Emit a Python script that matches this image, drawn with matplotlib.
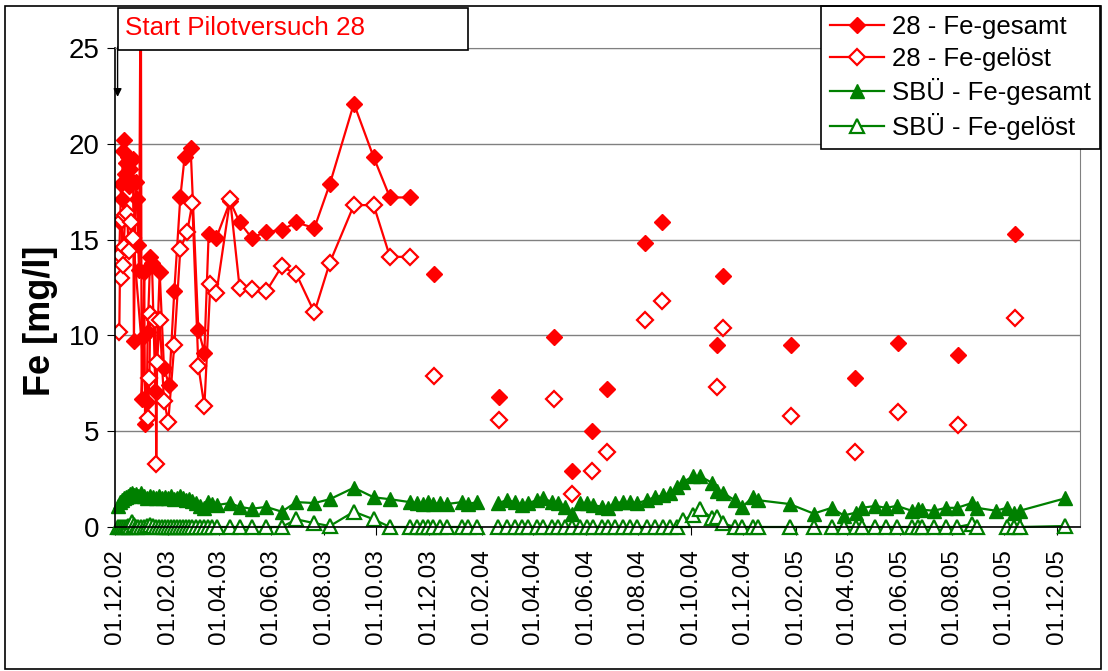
import matplotlib
matplotlib.use("Agg")
import matplotlib.pyplot as plt
import matplotlib.dates as mdates
import numpy as np
import pandas as pd
from matplotlib.patches import Rectangle

plt.rcParams["font.family"] = ["Liberation Sans", "DejaVu Sans"]

ROT = "#FF0000"
GRUEN = "#008000"

# Pilotversuch 28, zusammenhaengende Messreihe (Dez. 2002 - Nov. 2003)
p28_gesamt_dates = [
    "06.12.02", "07.12.02", "08.12.02", "09.12.02", "10.12.02", "11.12.02",
    "13.12.02", "14.12.02", "15.12.02", "16.12.02", "17.12.02", "18.12.02",
    "20.12.02", "22.12.02", "23.12.02", "25.12.02", "27.12.02", "28.12.02",
    "29.12.02", "31.12.02", "01.01.03", "03.01.03", "04.01.03", "05.01.03",
    "07.01.03", "08.01.03", "11.01.03", "13.01.03", "17.01.03", "22.01.03",
    "27.01.03", "02.02.03", "08.02.03", "15.02.03", "20.02.03", "27.02.03",
    "08.03.03", "15.03.03", "20.03.03", "29.03.03", "14.04.03", "25.04.03",
    "09.05.03", "26.05.03", "13.06.03", "30.06.03", "21.07.03", "08.08.03",
    "05.09.03", "28.09.03", "17.10.03", "09.11.03",
]
p28_gesamt = [
    14.4, 15.9, 17.9, 17.1, 19.6, 20.2,
    18.4, 19.0, 18.2, 19.3, 17.8, 18.7,
    18.1, 19.2, 9.7, 18.0, 17.1, 14.7,
    13.4, 31.0, 6.7, 9.9, 13.3, 5.4,
    6.5, 10.2, 14.1, 13.8, 7.1, 13.3,
    8.3, 7.4, 12.3, 17.2, 19.3, 19.8,
    10.3, 9.1, 15.3, 15.1, 17.0, 15.9,
    15.1, 15.4, 15.5, 15.9, 15.6, 17.9,
    22.1, 19.3, 17.2, 17.2,
]

p28_geloest_dates = [
    "06.12.02", "07.12.02", "08.12.02", "09.12.02", "10.12.02", "11.12.02",
    "13.12.02", "15.12.02", "17.12.02", "20.12.02", "22.12.02", "08.01.03",
    "10.01.03", "11.01.03", "17.01.03", "18.01.03", "19.01.03", "22.01.03",
    "27.01.03", "01.02.03", "08.02.03", "15.02.03", "23.02.03", "01.03.03",
    "08.03.03", "15.03.03", "22.03.03", "29.03.03", "14.04.03", "25.04.03",
    "09.05.03", "26.05.03", "13.06.03", "30.06.03", "21.07.03", "08.08.03",
    "05.09.03", "28.09.03", "17.10.03", "09.11.03",
]
p28_geloest = [
    10.2, 14.2, 13.0, 16.0, 13.7, 14.6,
    16.3, 16.4, 14.4, 15.9, 15.1, 5.7,
    7.8, 11.1, 10.8, 3.3, 8.6, 10.8,
    6.6, 5.5, 9.5, 14.5, 15.4, 16.9,
    8.4, 6.3, 12.7, 12.2, 17.1, 12.5,
    12.4, 12.3, 13.6, 13.2, 11.2, 13.8,
    16.8, 16.8, 14.1, 14.1,
]

# Pilotversuch 28, spaetere Einzelproben (nicht verbunden)
p28_einzel_dates = [
    "07.12.03", "21.02.04", "25.04.04", "16.05.04", "08.06.04", "26.06.04",
    "09.08.04", "29.08.04", "01.11.04", "07.11.04", "26.01.05", "10.04.05",
    "30.05.05", "08.08.05", "13.10.05",
]
p28_einzel_gesamt = [13.2, 6.8, 9.9, 2.9, 5.0, 7.2, 14.8, 15.9, 9.5, 13.1, 9.5, 7.8, 9.6, 9.0, 15.3]
p28_einzel_geloest = [7.9, 5.6, 6.7, 1.7, 2.9, 3.9, 10.8, 11.8, 7.3, 10.4, 5.8, 3.9, 6.0, 5.3, 10.9]

# SBUe (None = keine Messung)
sbu_dates = [
    "04.12.02", "07.12.02", "09.12.02", "11.12.02", "14.12.02", "16.12.02",
    "18.12.02", "21.12.02", "23.12.02", "25.12.02", "28.12.02", "31.12.02",
    "04.01.03", "07.01.03", "11.01.03", "14.01.03", "18.01.03", "21.01.03",
    "25.01.03", "28.01.03", "01.02.03", "04.02.03", "08.02.03", "11.02.03",
    "15.02.03", "18.02.03", "22.02.03", "25.02.03", "01.03.03", "05.03.03",
    "10.03.03", "15.03.03", "19.03.03", "24.03.03", "30.03.03", "14.04.03",
    "25.04.03", "09.05.03", "26.05.03", "13.06.03", "30.06.03", "21.07.03",
    "08.08.03", "05.09.03", "28.09.03", "17.10.03", "09.11.03", "17.11.03",
    "24.11.03", "30.11.03", "06.12.03", "14.12.03", "22.12.03", "09.01.04",
    "16.01.04", "26.01.04", "09.02.04", "20.02.04", "01.03.04", "10.03.04",
    "19.03.04", "26.03.04", "05.04.04", "12.04.04", "23.04.04", "29.04.04",
    "08.05.04", "16.05.04", "25.05.04", "02.06.04", "09.06.04", "20.06.04",
    "27.06.04", "05.07.04", "14.07.04", "22.07.04", "31.07.04", "11.08.04",
    "20.08.04", "30.08.04", "07.09.04", "15.09.04", "22.09.04", "04.10.04",
    "12.10.04", "26.10.04", "31.10.04", "07.11.04", "21.11.04", "30.11.04",
    "12.12.04", "18.12.04", "24.01.05", "21.02.05", "14.03.05", "28.03.05",
    "11.04.05", "18.04.05", "04.05.05", "16.05.05", "29.05.05", "15.06.05",
    "22.06.05", "27.06.05", "11.07.05", "25.07.05", "07.08.05", "24.08.05",
    "30.08.05", "21.09.05", "04.10.05", "12.10.05", "19.10.05", "11.12.05",
]
sbu_gesamt = [
    1.1, 1.3, 1.4, 1.5, 1.55, 1.6,
    1.7, 1.75, 1.65, 1.7, 1.6, 1.75,
    1.6, 1.5, 1.6, 1.55, 1.5, 1.6,
    1.5, 1.55, 1.5, 1.6, 1.45, 1.5,
    1.6, 1.5, 1.4, 1.45, 1.35, 1.25,
    1.1, 1.0, 1.3, 1.2, 1.15, 1.25,
    1.05, 0.95, 1.05, 0.8, 1.3, 1.25,
    1.45, 2.05, 1.55, 1.45, 1.3, 1.25,
    1.2, 1.3, 1.2, 1.25, 1.2, 1.3,
    1.2, 1.3, None, 1.25, 1.4, 1.3,
    1.15, 1.25, 1.4, 1.5, 1.3, 1.25,
    1.05, 0.7, 1.25, 1.25, 1.15, 1.05,
    1.0, 1.25, 1.3, 1.3, 1.25, 1.4,
    1.55, 1.65, 1.8, 2.1, 2.35, 2.65,
    2.65, 2.3, 1.9, 1.8, 1.4, 1.05,
    1.55, 1.4, 1.2, 0.7, 1.0, 0.6,
    0.75, 1.0, 1.1, 1.0, 1.1, 0.85,
    0.95, 0.9, 0.85, 1.0, 1.0, 1.25,
    1.0, 0.85, 1.0, 0.75, 0.85, 1.5,
]
sbu_geloest = [
    0.0, 0.0, 0.0, 0.0, 0.0, 0.05,
    0.0, 0.25, 0.1, 0.0, 0.0, 0.0,
    0.0, 0.05, 0.1, 0.05, 0.0, 0.0,
    0.0, 0.0, 0.0, 0.0, 0.0, 0.0,
    0.0, 0.0, 0.0, 0.0, 0.0, 0.0,
    0.0, 0.0, 0.0, 0.0, 0.0, 0.0,
    0.0, 0.0, 0.0, 0.0, 0.4, 0.2,
    0.05, 0.8, 0.4, 0.0, 0.0, 0.0,
    0.0, 0.0, 0.0, 0.0, 0.0, 0.0,
    0.0, 0.0, None, 0.0, 0.0, 0.0,
    0.0, 0.0, 0.0, 0.0, 0.0, 0.0,
    0.0, 0.0, 0.0, 0.0, 0.0, 0.0,
    0.0, 0.0, 0.0, 0.0, 0.0, 0.0,
    0.0, 0.0, 0.0, 0.0, 0.35, 0.65,
    0.95, 0.45, 0.5, 0.2, 0.0, 0.0,
    0.0, 0.0, 0.0, 0.0, 0.0, 0.0,
    0.0, 0.0, 0.0, 0.0, 0.0, 0.0,
    0.0, 0.0, 0.0, 0.0, 0.0, 0.15,
    0.0, None, 0.0, 0.0, 0.0, 0.05,
]

legend_labels = ["28 - Fe-gesamt", "28 - Fe-gelöst", "SBÜ - Fe-gesamt", "SBÜ - Fe-gelöst"]
start_text = "Start Pilotversuch 28"
start_datum = "04.12.02"


def to_dates(values):
    return pd.to_datetime(values, format="%d.%m.%y")


def as_float(values):
    return np.array([np.nan if v is None else v for v in values], dtype=float)


W, H = 1108, 671
fig = plt.figure(figsize=(W / 100, H / 100), dpi=100)
ax = fig.add_axes([115 / W, 1 - 527 / H, (1080 - 115) / W, (527 - 48) / H])

gesamt_style = dict(color=ROT, lw=1.6, marker="D", ms=8, mfc=ROT, mec=ROT)
geloest_style = dict(color=ROT, lw=1.6, marker="D", ms=8, mfc="white", mec=ROT, mew=1.6)

h1, = ax.plot(to_dates(p28_gesamt_dates), p28_gesamt, **gesamt_style)
h2, = ax.plot(to_dates(p28_geloest_dates), p28_geloest, **geloest_style)
ax.plot(to_dates(p28_einzel_dates), p28_einzel_gesamt, ls="none",
        **{k: v for k, v in gesamt_style.items() if k != "lw"})
ax.plot(to_dates(p28_einzel_dates), p28_einzel_geloest, ls="none",
        **{k: v for k, v in geloest_style.items() if k != "lw"})

h3, = ax.plot(to_dates(sbu_dates), as_float(sbu_gesamt), color=GRUEN, lw=1.6,
              marker="^", ms=9.5, mfc=GRUEN, mec=GRUEN, clip_on=False)
h4, = ax.plot(to_dates(sbu_dates), as_float(sbu_geloest), color=GRUEN, lw=1.6,
              marker="^", ms=9.5, mfc="white", mec=GRUEN, mew=1.6, clip_on=False)

ax.set_ylim(0, 25)
ax.set_yticks(range(0, 26, 5))
ax.set_xlim(pd.Timestamp("2002-12-01"), pd.Timestamp("2005-12-28"))
ax.xaxis.set_major_locator(mdates.MonthLocator(bymonth=[2, 4, 6, 8, 10, 12], bymonthday=1))
ax.xaxis.set_major_formatter(mdates.DateFormatter("%d.%m.%y"))
ax.tick_params(axis="x", labelrotation=90, labelsize=17.5, length=6, pad=10, direction="out")
ax.tick_params(axis="y", labelsize=20, length=6, pad=5, direction="out")
ax.yaxis.grid(True, color="#808080", lw=1)
ax.set_axisbelow(True)
for side in ("left", "bottom"):
    ax.spines[side].set_color("black")
    ax.spines[side].set_linewidth(1.2)
for side in ("top", "right"):
    ax.spines[side].set_color("#808080")
ax.set_ylabel("Fe [mg/l]", fontsize=26, fontweight="bold", va="center")
ax.yaxis.set_label_coords(-75 / (1080 - 115), 0.43)

# Start-Markierung
ax.annotate("", xy=(to_dates([start_datum])[0], 22.3),
            xytext=(to_dates([start_datum])[0], 25.2),
            arrowprops=dict(arrowstyle="-|>", color="black", lw=1, mutation_scale=12),
            annotation_clip=False)
fig.add_artist(Rectangle((118 / W, 1 - 50 / H), 350 / W, 42 / H,
                         transform=fig.transFigure, facecolor="white",
                         edgecolor="black", lw=1.2, zorder=5))
fig.text(125 / W, 1 - 28 / H, start_text, color=ROT, fontsize=18.7,
         va="center", ha="left", zorder=6)

leg = ax.legend([h1, h2, h3, h4], legend_labels, loc="upper left",
                bbox_to_anchor=(821 / W, 1 - 6 / H), bbox_transform=fig.transFigure,
                fontsize=18.5, frameon=True, fancybox=False, edgecolor="black",
                framealpha=1, borderaxespad=0, handlelength=2.1,
                handletextpad=0.3, labelspacing=0.3, borderpad=0.35)
leg.get_frame().set_linewidth(1.2)
leg.set_zorder(7)

# aeusserer Diagrammrahmen
fig.add_artist(Rectangle((5 / W, 2 / H), 1096 / W, 663 / H, transform=fig.transFigure,
                         fill=False, edgecolor="black", lw=1.2, zorder=8))

fig.savefig("out.png", dpi=100)
